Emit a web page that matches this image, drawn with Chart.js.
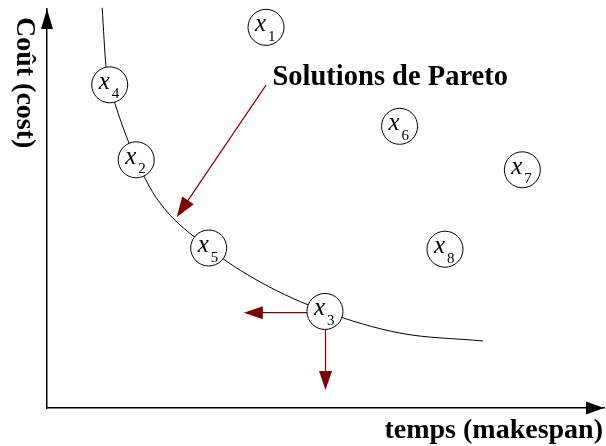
<!DOCTYPE html>
<html><head><meta charset="utf-8">
<script src="https://cdn.jsdelivr.net/npm/chart.js@4/dist/chart.umd.min.js"></script>
<style>html,body{margin:0;padding:0;background:#fff}#wrap{width:606px;height:446px;position:relative}canvas{display:block}</style>
</head><body><div id="wrap"><canvas id="c" width="606" height="446"></canvas></div>
<script>
// ---- data (arbitrary units: makespan on x, cost on y) ----
const solutionLabels = ['1','2','3','4','5','6','7','8'];
const makespan = [40.5, 16.5, 51.4, 11.6, 29.9, 65.2, 87.9, 73.6];
const cost     = [95.4, 62.2, 24.2, 81.0, 40.1, 70.6, 59.7, 39.8];
const frontMakespan = [10.2, 10.9, 11.6, 13.7, 16.5, 20.5, 29.9, 39.4, 51.4, 65.2, 80.6];
const frontCost     = [100.3, 85.7, 81.0, 71.7, 62.2, 52.1, 40.1, 31.6, 24.2, 18.8, 16.8];
const xAxisTitle = 'temps (makespan)';
const yAxisTitle = 'Coût (cost)';
const annotationText = 'Solutions de Pareto';
const annotationAt = [41.7, 80.9];
const paretoArrow = [40.5, 80.9, 24.0, 47.9];
const dominanceArrows = [[48.1, 23.9, 36.4, 23.9], [51.5, 19.8, 51.5, 4.5]];

const SERIF = '"Liberation Serif", "Times New Roman", serif';
const RED = '#800000';

function head(ctx, tx, ty, dx, dy, len, hw) {
  const bx = tx - dx * len, by = ty - dy * len;
  ctx.beginPath();
  ctx.moveTo(tx, ty);
  ctx.lineTo(bx - dy * hw, by + dx * hw);
  ctx.lineTo(bx + dy * hw, by - dx * hw);
  ctx.closePath();
  ctx.fill();
}
function arrow(ctx, x0, y0, x1, y1, len, hw, color) {
  const L = Math.hypot(x1 - x0, y1 - y0), dx = (x1 - x0) / L, dy = (y1 - y0) / L;
  ctx.strokeStyle = color; ctx.fillStyle = color; ctx.lineWidth = 1.2;
  ctx.beginPath(); ctx.moveTo(x0, y0); ctx.lineTo(x1 - dx * len * 0.8, y1 - dy * len * 0.8); ctx.stroke();
  head(ctx, x1, y1, dx, dy, len, hw);
}

const decor = {
  id: 'decor',
  afterDatasetsDraw(chart) {
    const { ctx, chartArea: a, scales: { x, y } } = chart;
    ctx.save();
    // axis arrowheads
    ctx.fillStyle = '#000';
    head(ctx, a.left, a.top, 0, -1, 20, 6);
    head(ctx, a.right, a.bottom, 1, 0, 18, 6.5);
    // circle labels
    const meta = chart.getDatasetMeta(0);
    meta.data.forEach((pt, i) => {
      ctx.fillStyle = '#000';
      ctx.textBaseline = 'alphabetic';
      ctx.textAlign = 'left';
      ctx.font = 'italic 25px ' + SERIF;
      ctx.fillText('x', pt.x - 11, pt.y + 4);
      ctx.font = '15px ' + SERIF;
      ctx.fillText(solutionLabels[i], pt.x + 2, pt.y + 13.5);
    });
    // annotation arrows
    arrow(ctx, x.getPixelForValue(paretoArrow[0]), y.getPixelForValue(paretoArrow[1]),
          x.getPixelForValue(paretoArrow[2]), y.getPixelForValue(paretoArrow[3]), 20, 7, RED);
    dominanceArrows.forEach(d => {
      arrow(ctx, x.getPixelForValue(d[0]), y.getPixelForValue(d[1]),
            x.getPixelForValue(d[2]), y.getPixelForValue(d[3]), 19, 6.5, RED);
    });
    // annotation text
    ctx.fillStyle = '#000';
    ctx.font = 'bold 28.5px ' + SERIF;
    ctx.textAlign = 'left'; ctx.textBaseline = 'alphabetic';
    ctx.fillText(annotationText, x.getPixelForValue(annotationAt[0]), y.getPixelForValue(annotationAt[1]));
    // axis titles
    ctx.font = 'bold 28px ' + SERIF;
    ctx.textAlign = 'right';
    ctx.fillText(xAxisTitle, a.right - 1, a.bottom + 30);
    ctx.save();
    ctx.translate(a.left - 30, a.top + 8);
    ctx.rotate(Math.PI / 2);
    ctx.textAlign = 'left';
    ctx.fillText(yAxisTitle, 0, 0);
    ctx.restore();
    ctx.restore();
  }
};

const axisOpts = (min, max) => ({
  type: 'linear', min, max, display: true,
  grid: { display: false, drawTicks: false },
  ticks: { display: false },
  title: { display: false },
  border: { display: true, color: '#000', width: 1.5 }
});

new Chart(document.getElementById('c'), {
  type: 'scatter',
  data: {
    datasets: [
      {
        label: 'solutions',
        data: makespan.map((v, i) => ({ x: v, y: cost[i] })),
        pointRadius: 18, pointHoverRadius: 18,
        pointBackgroundColor: '#fff', pointBorderColor: '#000', pointBorderWidth: 1,
        showLine: false, clip: false
      },
      {
        label: 'front',
        data: frontMakespan.map((v, i) => ({ x: v, y: frontCost[i] })),
        showLine: true, pointRadius: 0, borderColor: '#000', borderWidth: 1,
        cubicInterpolationMode: 'monotone', fill: false, clip: false
      }
    ]
  },
  options: {
    responsive: false, animation: false, devicePixelRatio: 1,
    layout: { autoPadding: false, padding: { left: 47, right: 2, top: 9, bottom: 38 } },
    plugins: { legend: { display: false }, tooltip: { enabled: false } },
    events: [],
    scales: { x: axisOpts(0, 103), y: axisOpts(0, 100) }
  },
  plugins: [decor]
});
</script>
</body></html>
